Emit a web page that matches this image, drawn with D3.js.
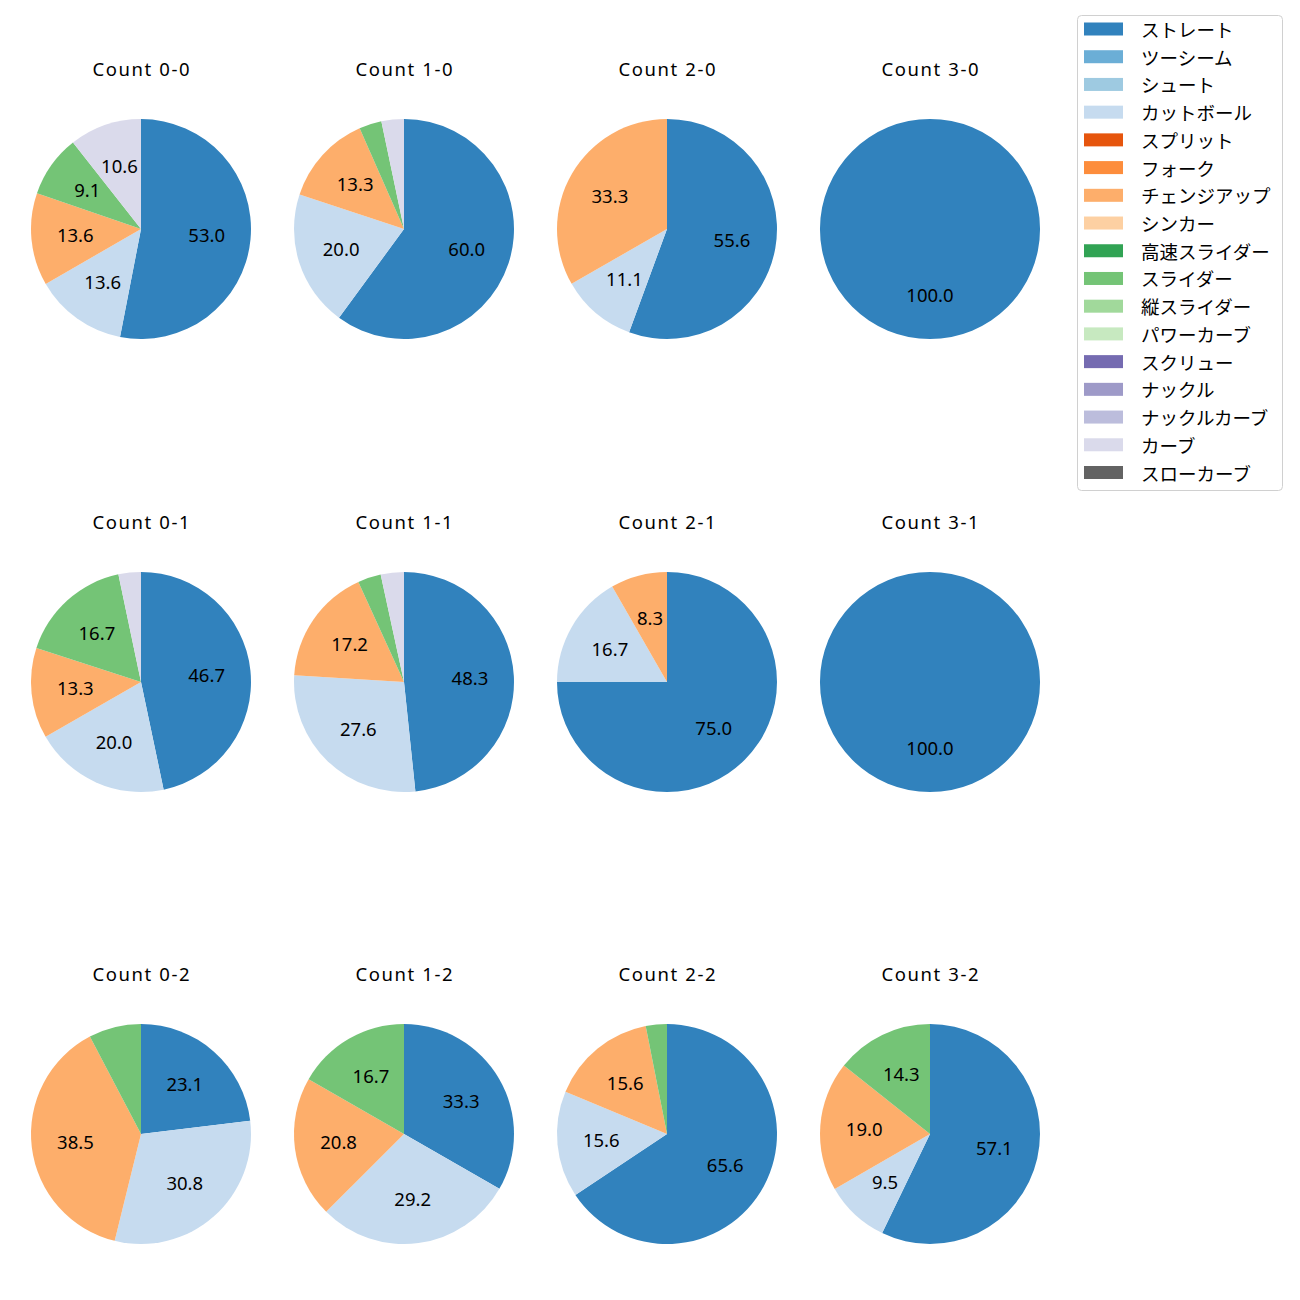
<!DOCTYPE html>
<html>
<head>
<meta charset="utf-8">
<script src="https://cdn.jsdelivr.net/npm/d3@7"></script>
<style>
  html, body { margin: 0; padding: 0; background: #ffffff; }
  svg { display: block; }
  text { fill: #000; }
  .lat { font-family: "Noto Sans", "DejaVu Sans", sans-serif; }
  .jp { font-family: "Noto Sans CJK JP", "Noto Sans", sans-serif; }
</style>
</head>
<body>
<svg id="chart" width="1300" height="1300"></svg>
<script>
// ---- data ----
const pitchTypes = ["ストレート","ツーシーム","シュート","カットボール","スプリット","フォーク","チェンジアップ","シンカー","高速スライダー","スライダー","縦スライダー","パワーカーブ","スクリュー","ナックル","ナックルカーブ","カーブ","スローカーブ"];
const pitchColors = ["#3182bd","#6baed6","#9ecae1","#c6dbef","#e6550d","#fd8d3c","#fdae6b","#fdd0a2","#31a354","#74c476","#a1d99b","#c7e9c0","#756bb1","#9e9ac8","#bcbddc","#dadaeb","#636363"];

const countTitles = ["Count 0-0","Count 1-0","Count 2-0","Count 3-0",
                     "Count 0-1","Count 1-1","Count 2-1","Count 3-1",
                     "Count 0-2","Count 1-2","Count 2-2","Count 3-2"];

// percentages per pitch type for each count
const count00 = {"ストレート":53.0,"カットボール":13.6,"チェンジアップ":13.6,"スライダー":9.1,"カーブ":10.6};
const count10 = {"ストレート":60.0,"カットボール":20.0,"チェンジアップ":13.3,"スライダー":3.3,"カーブ":3.3};
const count20 = {"ストレート":55.6,"カットボール":11.1,"チェンジアップ":33.3};
const count30 = {"ストレート":100.0};
const count01 = {"ストレート":46.7,"カットボール":20.0,"チェンジアップ":13.3,"スライダー":16.7,"カーブ":3.3};
const count11 = {"ストレート":48.3,"カットボール":27.6,"チェンジアップ":17.2,"スライダー":3.4,"カーブ":3.4};
const count21 = {"ストレート":75.0,"カットボール":16.7,"チェンジアップ":8.3};
const count31 = {"ストレート":100.0};
const count02 = {"ストレート":23.1,"カットボール":30.8,"チェンジアップ":38.5,"スライダー":7.7};
const count12 = {"ストレート":33.3,"カットボール":29.2,"チェンジアップ":20.8,"スライダー":16.7};
const count22 = {"ストレート":65.6,"カットボール":15.6,"チェンジアップ":15.6,"スライダー":3.1};
const count32 = {"ストレート":57.1,"カットボール":9.5,"チェンジアップ":19.0,"スライダー":14.3};

const countData = [count00,count10,count20,count30,count01,count11,count21,count31,count02,count12,count22,count32];

// ---- layout ----
const svg = d3.select("#chart");
const colX = d3.scaleOrdinal().domain([0,1,2,3]).range([141, 404, 667, 930]);
const rowY = d3.scaleOrdinal().domain([0,1,2]).range([229, 682, 1134]);
const R = 110;
const labelMin = 8;
const fs = 18.5;
const titleSpacing = 1.6;

const color = d3.scaleOrdinal().domain(pitchTypes).range(pitchColors);

const pie = d3.pie().sort(null).value(d => d.value)
  .startAngle(0).endAngle(2 * Math.PI);
const arc = d3.arc().innerRadius(0).outerRadius(R);
const labelArc = d3.arc().innerRadius(R * 0.6).outerRadius(R * 0.6);

countData.forEach((cd, i) => {
  const col = i % 4, row = Math.floor(i / 4);
  const cx = colX(col), cy = rowY(row);
  const entries = pitchTypes.filter(p => cd[p] !== undefined).map(p => ({name: p, value: cd[p]}));
  const g = svg.append("g").attr("transform", `translate(${cx},${cy})`);
  const arcs = pie(entries);
  g.selectAll("path").data(arcs).enter().append("path")
    .attr("d", arc)
    .attr("fill", d => color(d.data.name));
  g.selectAll("text.lbl").data(arcs.filter(d => d.data.value >= labelMin)).enter().append("text")
    .attr("class", "lbl lat")
    .attr("transform", d => {
      if (entries.length === 1) return `translate(0,${R * 0.6})`;
      const c = labelArc.centroid(d);
      return `translate(${c[0]},${c[1]})`;
    })
    .attr("text-anchor", "middle")
    .attr("dy", (0.714 * fs / 2).toFixed(2))
    .style("font-size", fs + "px")
    .text(d => d.data.value.toFixed(1));
  svg.append("text")
    .attr("class", "lat")
    .attr("x", cx + titleSpacing / 2).attr("y", cy - 153.5)
    .attr("text-anchor", "middle")
    .style("font-size", fs + "px")
    .style("letter-spacing", titleSpacing + "px")
    .text(countTitles[i]);
});

// ---- legend ----
const lg = svg.append("g");
lg.append("rect")
  .attr("x", 1077.5).attr("y", 15.5).attr("width", 205).attr("height", 475)
  .attr("rx", 4).attr("fill", "#fff").attr("stroke", "#d0d0d0").attr("stroke-width", 1);
const legY = d3.scaleLinear().domain([0, pitchTypes.length - 1]).range([29, 472.5]);
pitchTypes.forEach((p, k) => {
  const y = legY(k);
  lg.append("rect").attr("x", 1084).attr("y", y - 6.5).attr("width", 39).attr("height", 13).attr("fill", color(p));
  lg.append("text").attr("class", "jp").attr("x", 1141).attr("y", y).attr("dominant-baseline", "central")
    .style("font-size", fs + "px").text(p);
});
</script>
</body>
</html>
